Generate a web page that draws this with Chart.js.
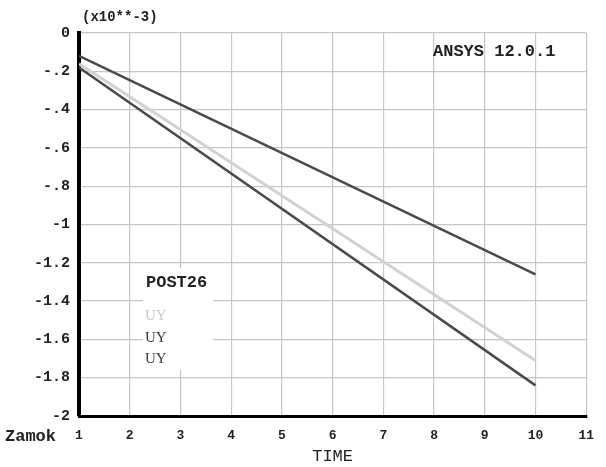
<!DOCTYPE html>
<html><head><meta charset="utf-8">
<script src="https://cdn.jsdelivr.net/npm/chart.js@4/dist/chart.umd.min.js"></script>
<style>html,body{margin:0;padding:0;background:#fff;overflow:hidden}#wrap{width:606px;height:467px;position:relative}</style>
</head><body><div id="wrap"><canvas id="c"></canvas></div>
<script>
// ---- data ----
const timeValues = [1, 10];
const uyLight = [-0.16, -1.71];
const uyUpper = [-0.12, -1.26];
const uyLower = [-0.18, -1.84];
const seriesLabels = ['UY', 'UY', 'UY'];
const legendTitle = 'POST26';
const xTicks = [1, 2, 3, 4, 5, 6, 7, 8, 9, 10, 11];
const yTicks = [0, -0.2, -0.4, -0.6, -0.8, -1, -1.2, -1.4, -1.6, -1.8, -2];
const yTickLabels = ['0', '-.2', '-.4', '-.6', '-.8', '-1', '-1.2', '-1.4', '-1.6', '-1.8', '-2'];
const yUnitLabel = '(x10**-3)';
const xTitle = 'TIME';
const versionLabel = 'ANSYS 12.0.1';
const plotName = 'Zamok';

const lineColors = ['#d2d2d2', '#4a4a4a', '#4a4a4a'];
const mono = '"Liberation Mono", "DejaVu Sans Mono", monospace';
const serif = '"Liberation Serif", "DejaVu Serif", serif';

function pts(ys) { return timeValues.map((t, i) => ({x: t, y: ys[i]})); }

const annot = {
  id: 'annot',
  beforeDatasetsDraw(chart) {
    const ctx = chart.ctx;
    ctx.save();
    ctx.fillStyle = '#ffffff';
    ctx.fillRect(143, 268, 70, 102);
    ctx.restore();
  },
  afterDraw(chart) {
    const ctx = chart.ctx;
    ctx.save();
    ctx.textBaseline = 'middle';
    ctx.fillStyle = '#222';
    ctx.textAlign = 'left';
    ctx.font = 'bold 14px ' + mono;
    ctx.fillText(yUnitLabel, 82, 17);
    ctx.font = 'bold 17px ' + mono;
    ctx.fillText(versionLabel, 433, 52);
    ctx.fillText(legendTitle, 146, 283);
    ctx.fillText(plotName, 5, 437);
    ctx.font = '15px ' + serif;
    const ly = [316, 338, 359];
    seriesLabels.forEach((s, i) => {
      ctx.fillStyle = i === 0 ? '#c8c8c8' : '#3a3a3a';
      ctx.fillText(s, 145, ly[i]);
    });
    ctx.restore();
  }
};

new Chart(document.getElementById('c'), {
  type: 'line',
  data: {
    datasets: [
      {label: seriesLabels[0], data: pts(uyLight), borderColor: lineColors[0], borderWidth: 3},
      {label: seriesLabels[1], data: pts(uyUpper), borderColor: lineColors[1], borderWidth: 2.5},
      {label: seriesLabels[2], data: pts(uyLower), borderColor: lineColors[2], borderWidth: 2.5}
    ]
  },
  options: {
    responsive: true,
    maintainAspectRatio: false,
    animation: false,
    elements: {point: {radius: 0}, line: {tension: 0}},
    layout: {padding: {top: 33, right: 19, left: 0, bottom: 0}},
    plugins: {legend: {display: false}, tooltip: {enabled: false}, title: {display: false}},
    scales: {
      x: {
        type: 'linear', min: 1, max: 11,
        afterBuildTicks: s => { s.ticks = xTicks.map(v => ({value: v})); },
        afterFit: s => { s.height = 51; },
        grid: {color: '#c6c6c6', lineWidth: 1.2, drawTicks: false},
        border: {display: true, color: '#000', width: 3},
        ticks: {padding: 12, color: '#222', font: {family: mono, size: 13, weight: 'bold'}, callback: v => String(v)},
        title: {display: true, text: xTitle, color: '#222', font: {family: mono, size: 17}, padding: {top: 2, bottom: 0}}
      },
      y: {
        min: -2, max: 0,
        afterBuildTicks: s => { s.ticks = yTicks.map(v => ({value: v})); },
        afterFit: s => { s.width = 79; },
        grid: {color: '#c6c6c6', lineWidth: 1.2, drawTicks: false},
        border: {display: true, color: '#000', width: 4},
        ticks: {padding: 9, color: '#222', font: {family: mono, size: 15, weight: 'bold'}, callback: (v, i) => yTickLabels[i]}
      }
    }
  },
  plugins: [annot]
});
</script></body></html>
